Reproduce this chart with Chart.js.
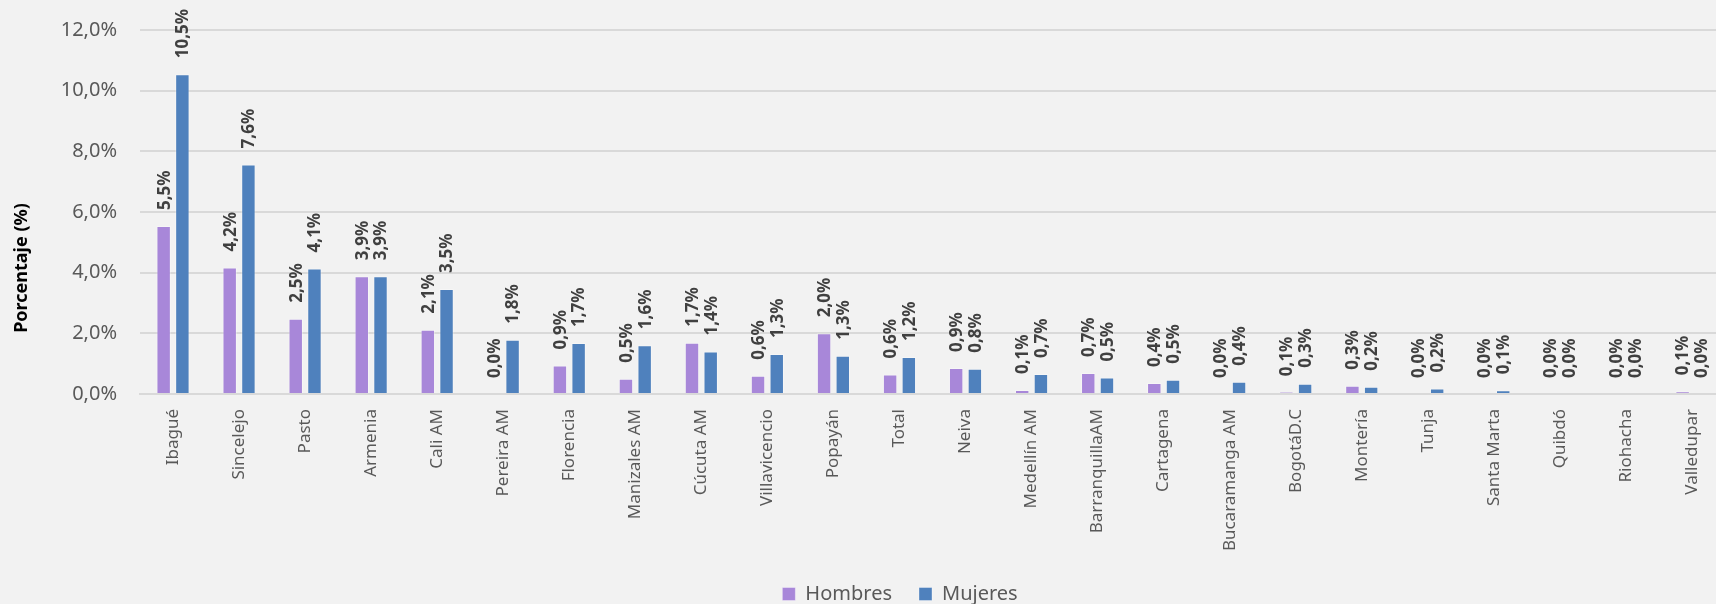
<!DOCTYPE html>
<html lang="es">
<head>
<meta charset="utf-8">
<title>Porcentaje por ciudad</title>
<script src="https://cdn.jsdelivr.net/npm/chart.js@4.4.1/dist/chart.umd.min.js"></script>
<style>
    html, body {
        margin: 0;
        padding: 0;
        background: #F2F2F2;
        overflow: hidden;
        width: 1716px;
        height: 604px;
    }
    canvas {
        display: block;
    }
</style>
</head>
<body>
<canvas id="cityChart" width="1800" height="614"></canvas>
<script>
// Chart data
const CITIES = [
    'Ibagué', 'Sincelejo', 'Pasto', 'Armenia', 'Cali AM', 'Pereira AM',
    'Florencia', 'Manizales AM', 'Cúcuta AM', 'Villavicencio', 'Popayán', 'Total',
    'Neiva', 'Medellín AM', 'BarranquillaAM', 'Cartagena', 'Bucaramanga AM', 'BogotáD.C',
    'Montería', 'Tunja', 'Santa Marta', 'Quibdó', 'Riohacha', 'Valledupar'
];

const HOMBRES = [
    5.54, 4.17, 2.48, 3.88, 2.12, 0.0,
    0.94, 0.50, 1.69, 0.60, 2.00, 0.64,
    0.86, 0.13, 0.69, 0.36, 0.0, 0.06,
    0.27, 0.0, 0.0, 0.0, 0.0, 0.09
];

const MUJERES = [
    10.54, 7.57, 4.14, 3.88, 3.46, 1.79,
    1.68, 1.61, 1.40, 1.32, 1.26, 1.22,
    0.83, 0.66, 0.54, 0.47, 0.40, 0.34,
    0.24, 0.18, 0.12, 0.0, 0.0, 0.0
];

const Y_TICK_STEP = 2;
const Y_MAX = 12;

// Colors
const COLORS = {
    hombres: '#A887D9',
    mujeres: '#4F81BD',
    barEdge: 'rgba(255, 255, 255, 0.35)',
    grid: '#D9D9D9',
    tickText: '#595959',
    labelText: '#404040'
};

const FONT = '"Noto Sans", "Open Sans", sans-serif';

/**
 * Format a number as a Spanish style percentage, e.g. 10,5%
 */
function formatPercent(value) {
    return value.toFixed(1).replace('.', ',') + '%';
}

// Rotated value labels above each bar
const barValueLabels = {
    id: 'barValueLabels',
    afterDatasetsDraw(chart) {
        const ctx = chart.ctx;
        ctx.save();
        ctx.font = 'bold 17px ' + FONT;
        ctx.fillStyle = COLORS.labelText;
        ctx.textAlign = 'left';
        ctx.textBaseline = 'middle';
        chart.data.datasets.forEach((dataset, i) => {
            chart.getDatasetMeta(i).data.forEach((bar, j) => {
                ctx.save();
                ctx.translate(bar.x + 1, bar.y - 16);
                ctx.rotate(-Math.PI / 2);
                ctx.fillText(formatPercent(dataset.data[j]), 0, 0);
                ctx.restore();
            });
        });
        ctx.restore();
    }
};

// Y axis title, placed lower than the plot centre like in the original
const yAxisTitle = {
    id: 'yAxisTitle',
    afterDraw(chart) {
        const ctx = chart.ctx;
        ctx.save();
        ctx.font = 'bold 18px ' + FONT;
        ctx.fillStyle = '#000000';
        ctx.textAlign = 'center';
        ctx.textBaseline = 'middle';
        ctx.translate(22, 268);
        ctx.rotate(-Math.PI / 2);
        ctx.fillText('Porcentaje (%)', 0, 0);
        ctx.restore();
    }
};

Chart.defaults.font.family = FONT;

const ctx = document.getElementById('cityChart').getContext('2d');
const cityChart = new Chart(ctx, {
    type: 'bar',
    data: {
        labels: CITIES,
        datasets: [{
            label: 'Hombres',
            data: HOMBRES,
            backgroundColor: COLORS.hombres,
            borderColor: COLORS.barEdge,
            borderWidth: 1,
            barPercentage: 0.77,
            categoryPercentage: 0.567
        }, {
            label: 'Mujeres',
            data: MUJERES,
            backgroundColor: COLORS.mujeres,
            borderColor: COLORS.barEdge,
            borderWidth: 1,
            barPercentage: 0.77,
            categoryPercentage: 0.567
        }]
    },
    options: {
        responsive: false,
        animation: false,
        devicePixelRatio: 1,
        layout: {
            padding: { top: 30, left: 0, right: 0, bottom: 0 }
        },
        plugins: {
            tooltip: { enabled: false },
            legend: {
                position: 'bottom',
                labels: {
                    boxWidth: 13,
                    boxHeight: 13,
                    padding: 27,
                    color: COLORS.tickText,
                    font: { size: 20 }
                }
            }
        },
        scales: {
            x: {
                grid: { display: false, drawTicks: false },
                border: { color: COLORS.grid, width: 2 },
                ticks: {
                    color: COLORS.tickText,
                    font: { size: 17 },
                    minRotation: 90,
                    maxRotation: 90,
                    autoSkip: false,
                    padding: 15
                },
                afterFit(scale) {
                    scale.height = 163;
                }
            },
            y: {
                min: 0,
                max: Y_MAX,
                grid: { color: COLORS.grid, lineWidth: 2, drawTicks: false },
                border: { display: false },
                ticks: {
                    stepSize: Y_TICK_STEP,
                    color: COLORS.tickText,
                    font: { size: 20 },
                    padding: 23,
                    callback: value => formatPercent(value)
                },
                afterFit(scale) {
                    scale.width = 140;
                    // tick padding would otherwise push the plot top down
                    scale.paddingTop = 12;
                    scale.paddingBottom = 12;
                }
            },
            // empty right axis, only reserves the space past the window edge
            spacer: {
                type: 'linear',
                position: 'right',
                grid: { display: false, drawTicks: false },
                border: { display: false },
                ticks: { display: false },
                afterFit(scale) {
                    scale.width = 75;
                }
            }
        }
    },
    plugins: [barValueLabels, yAxisTitle]
});
</script>
</body>
</html>
